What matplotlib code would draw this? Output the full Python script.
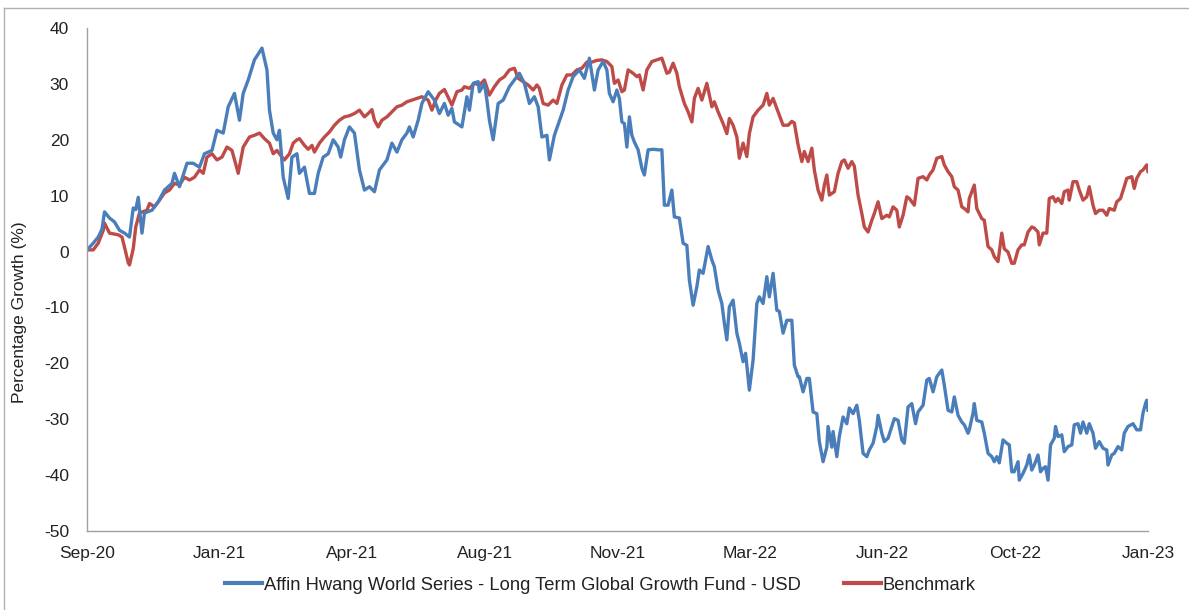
import numpy as np
import pandas as pd
import matplotlib
matplotlib.use("Agg")
import matplotlib.pyplot as plt
from matplotlib.lines import Line2D

# Data: days since 2020-09-25 and percentage growth
start = pd.Timestamp("2020-09-25")
span_days = 849

fund_days = [0, 5, 9, 12, 14, 18, 22, 26, 30, 34, 37, 39, 41, 44, 46, 52, 57, 62, 68, 70,
             74, 80, 85, 90, 94, 100, 104, 109, 113, 118, 122, 125, 129, 134, 140, 144, 146, 149, 152, 154,
             157, 161, 164, 168, 170, 174, 178, 182, 185, 189, 193, 197, 201, 203, 206, 210, 214, 218, 222, 226,
             230, 234, 240, 244, 248, 252, 256, 258, 261, 265, 268, 273, 278, 282, 286, 289, 292, 294, 300, 304,
             306, 309, 313, 314, 318, 320, 322, 325, 329, 333, 338, 344, 346, 350, 354, 358, 361, 364, 368, 370,
             374, 381, 385, 389, 394, 398, 402, 406, 409, 413, 416, 418, 421, 424, 426, 428, 430, 432, 434, 436,
             438, 441, 444, 446, 449, 453, 457, 460, 462, 465, 468, 470, 474, 477, 480, 482, 485, 488, 490, 493,
             497, 500, 502, 505, 508, 510, 512, 514, 517, 520, 522, 525, 527, 530, 533, 536, 538, 541, 544, 546,
             549, 552, 554, 557, 560, 564, 566, 569, 570, 573, 576, 578, 581, 584, 586, 589, 592, 593, 596, 597,
             600, 602, 605, 608, 610, 613, 616, 618, 621, 624, 626, 629, 632, 633, 636, 638, 641, 644, 646, 649,
             652, 654, 657, 660, 663, 665, 669, 672, 674, 677, 680, 684, 686, 689, 692, 694, 697, 700, 702, 705,
             706, 709, 710, 712, 716, 718, 721, 724, 726, 728, 730, 733, 736, 738, 740, 742, 745, 746, 749, 752,
             754, 756, 758, 761, 763, 765, 767, 769, 771, 774, 775, 777, 780, 782, 785, 788, 790, 793, 795, 797,
             800, 802, 805, 807, 810, 813, 816, 817, 820, 822, 825, 828, 830, 833, 837, 840, 843, 845, 847, 848,
             849]
fund_vals = [0.3, 1.5, 2.6, 4.0, 7.1, 6.0, 5.3, 3.8, 3.3, 2.6, 7.8, 7.5, 9.7, 3.3, 6.9, 7.4, 8.9, 11.0, 12.2, 14.0,
             11.6, 15.8, 15.8, 15.1, 17.5, 18.1, 21.7, 21.2, 25.9, 28.3, 23.5, 28.3, 30.7, 34.3, 36.4, 32.5, 25.3, 21.2, 20.0, 21.7,
             13.3, 9.5, 16.9, 17.5, 14.0, 15.1, 10.4, 10.4, 14.0, 16.9, 17.5, 20.0, 18.7, 16.9, 20.0, 22.3, 21.2, 14.6, 11.0, 11.6,
             10.7, 14.6, 16.4, 19.4, 17.8, 20.0, 21.2, 22.3, 20.5, 23.5, 26.5, 28.6, 27.1, 24.7, 26.5, 24.4, 25.6, 23.2, 22.3, 27.7,
             25.3, 30.1, 30.4, 28.6, 30.1, 27.1, 23.5, 20.0, 26.5, 27.1, 29.5, 31.3, 31.9, 30.1, 26.5, 27.7, 25.9, 20.5, 20.8, 16.4,
             20.8, 25.3, 28.9, 31.3, 32.5, 31.0, 34.6, 28.9, 32.5, 34.0, 32.5, 28.3, 26.8, 28.9, 27.4, 23.2, 22.9, 18.7, 24.1, 20.8,
             19.6, 18.2, 14.9, 13.7, 18.2, 18.3, 18.2, 18.2, 8.3, 8.3, 11.0, 6.2, 6.0, 1.5, 1.1, -5.1, -9.6, -6.3, -3.3, -3.9,
             0.9, -1.5, -2.7, -6.9, -9.3, -12.8, -15.8, -9.9, -8.7, -14.6, -16.4, -19.7, -18.2, -24.8, -19.4, -9.3, -8.1, -9.3, -4.5, -8.1,
             -3.9, -10.5, -10.7, -14.6, -12.3, -12.3, -20.3, -22.4, -22.4, -25.1, -22.7, -22.7, -28.7, -29.0, -34.0, -37.6, -35.0, -31.3, -35.0, -32.2,
             -36.7, -33.1, -29.6, -30.8, -28.0, -29.0, -27.5, -30.2, -36.1, -36.7, -35.5, -34.3, -31.3, -29.3, -32.5, -34.0, -33.4, -31.3, -29.9, -30.2,
             -33.7, -34.3, -27.8, -27.2, -30.8, -28.7, -27.5, -23.0, -22.7, -25.1, -22.4, -21.2, -23.9, -28.4, -28.7, -26.0, -29.3, -30.5, -31.0, -32.5,
             -31.9, -28.9, -27.2, -30.2, -30.5, -32.5, -36.1, -36.7, -37.6, -36.7, -37.8, -33.7, -34.3, -34.6, -39.4, -39.4, -37.6, -40.9, -39.7, -38.2,
             -36.4, -39.1, -38.2, -36.4, -39.4, -38.8, -38.5, -40.9, -34.6, -33.4, -31.3, -33.1, -32.8, -35.8, -34.9, -34.6, -31.0, -30.8, -32.5, -30.5,
             -32.5, -30.8, -32.5, -35.2, -34.0, -35.2, -35.5, -38.2, -36.4, -36.1, -34.9, -35.5, -32.5, -31.3, -30.8, -31.9, -31.9, -28.9, -27.2, -26.6,
             -28.4]

bench_days = [0, 5, 9, 13, 14, 18, 25, 28, 30, 33, 34, 37, 39, 42, 48, 50, 54, 58, 62, 66,
              70, 74, 78, 82, 86, 90, 93, 96, 100, 104, 108, 112, 116, 121, 125, 130, 134, 138, 142, 146,
              149, 152, 156, 158, 162, 165, 168, 170, 174, 177, 180, 182, 186, 190, 194, 198, 202, 206, 210, 214,
              218, 222, 225, 228, 230, 233, 236, 240, 244, 248, 252, 256, 260, 264, 268, 273, 276, 279, 282, 286,
              292, 296, 300, 302, 306, 310, 314, 318, 322, 326, 330, 334, 338, 342, 345, 349, 353, 357, 360, 362,
              365, 369, 373, 376, 380, 384, 388, 392, 396, 400, 404, 408, 412, 416, 420, 422, 425, 428, 430, 433,
              437, 440, 442, 445, 448, 452, 456, 460, 464, 466, 469, 472, 474, 478, 481, 484, 486, 489, 492, 496,
              500, 502, 505, 509, 512, 514, 517, 520, 522, 525, 528, 530, 533, 537, 541, 544, 546, 549, 553, 557,
              561, 564, 566, 569, 572, 574, 577, 580, 582, 585, 588, 590, 592, 594, 598, 601, 604, 606, 609, 612,
              614, 617, 620, 622, 625, 628, 630, 633, 636, 640, 642, 645, 648, 650, 653, 656, 658, 662, 665, 669,
              672, 674, 677, 680, 684, 686, 689, 692, 694, 697, 700, 702, 705, 706, 710, 712, 716, 718, 721, 724,
              726, 729, 732, 734, 737, 740, 742, 745, 748, 750, 753, 756, 758, 761, 762, 765, 768, 770, 773, 775,
              777, 780, 782, 785, 786, 789, 792, 794, 797, 800, 802, 805, 807, 810, 813, 816, 818, 822, 824, 827,
              830, 832, 836, 838, 840, 843, 845, 848, 849]
bench_vals = [0.3, 0.3, 1.5, 3.8, 5.1, 3.3, 3.0, 2.6, 0.8, -2.0, -2.4, 0.5, 4.4, 6.9, 7.4, 8.6, 8.0, 9.2, 10.5, 11.0,
              12.2, 11.9, 13.3, 12.8, 13.3, 14.6, 14.0, 16.9, 17.5, 16.4, 16.9, 18.7, 18.1, 14.0, 18.7, 20.5, 20.8, 21.2, 20.2, 19.4,
              17.5, 18.1, 16.9, 16.4, 17.5, 19.4, 20.0, 20.2, 19.0, 18.3, 19.0, 17.8, 19.4, 20.5, 21.4, 22.6, 23.5, 24.1, 24.3, 24.7,
              25.3, 24.1, 24.7, 25.4, 23.5, 22.3, 23.5, 24.1, 25.0, 25.9, 26.2, 26.8, 27.1, 27.4, 27.7, 27.1, 25.3, 27.1, 28.3, 29.0,
              26.2, 28.6, 28.9, 29.5, 29.2, 30.1, 29.8, 30.7, 28.0, 29.5, 30.7, 31.3, 32.5, 32.8, 31.0, 30.4, 29.8, 28.9, 29.8, 29.2,
              26.5, 26.2, 27.1, 26.5, 29.8, 31.6, 31.6, 32.5, 32.8, 33.9, 33.9, 34.2, 34.3, 34.0, 33.1, 30.1, 30.7, 28.6, 28.9, 32.5,
              31.9, 31.3, 31.6, 28.9, 32.5, 34.0, 34.3, 34.6, 31.9, 32.1, 33.7, 31.9, 29.5, 26.5, 25.0, 23.2, 27.4, 29.2, 27.1, 30.1,
              25.9, 26.8, 25.0, 22.9, 21.1, 23.8, 22.6, 20.5, 16.7, 19.4, 17.0, 21.1, 24.1, 25.3, 26.2, 28.3, 26.2, 27.4, 25.0, 22.6,
              22.6, 23.3, 23.0, 19.1, 16.1, 17.9, 16.1, 18.5, 14.6, 11.0, 9.2, 11.9, 13.7, 10.1, 10.7, 14.0, 16.1, 16.4, 14.9, 16.1,
              15.3, 10.1, 6.8, 4.4, 3.5, 5.6, 6.8, 8.9, 5.9, 6.5, 6.2, 8.0, 7.4, 4.4, 6.5, 9.8, 9.5, 8.3, 13.1, 13.4,
              12.8, 13.7, 14.6, 16.7, 17.0, 15.5, 14.3, 13.4, 11.6, 11.0, 8.0, 7.7, 7.1, 9.5, 11.9, 7.7, 5.9, 5.6, 0.9, 0.3,
              -0.9, -1.8, 3.3, 0.5, -0.1, -2.1, -2.1, 0.3, 1.2, 1.2, 3.5, 4.4, 4.2, 3.5, 1.2, 3.3, 3.3, 9.5, 9.8, 8.9,
              9.5, 8.6, 10.7, 11.0, 9.2, 12.5, 12.5, 11.0, 9.2, 9.8, 11.6, 8.3, 6.8, 7.4, 7.4, 6.5, 7.7, 7.4, 8.9, 9.5,
              11.6, 13.1, 13.4, 11.3, 13.1, 14.3, 14.6, 15.5, 14.3]

fund_name = "Affin Hwang World Series - Long Term Global Growth Fund - USD"
bench_name = "Benchmark"
y_ticks = list(range(-50, 41, 10))

fund_color = "#4a7ebb"
bench_color = "#be4b48"

fund_dates = start + pd.to_timedelta(fund_days, unit="D")
bench_dates = start + pd.to_timedelta(bench_days, unit="D")
tick_dates = [start + pd.Timedelta(days=span_days * k / 8) for k in range(9)]

plt.rcParams['font.family'] = ['Liberation Sans', 'DejaVu Sans']
plt.rcParams['axes.unicode_minus'] = False

fig = plt.figure(figsize=(11.89, 6.10), dpi=100)
ax = fig.add_axes([87 / 1189, 1 - 531 / 610, (1148 - 87) / 1189, (531 - 28) / 610])

ax.plot(bench_dates, bench_vals, color=bench_color, lw=2.4, solid_joinstyle='round')
ax.plot(fund_dates, fund_vals, color=fund_color, lw=2.4, solid_joinstyle='round')

ax.set_xlim(start, start + pd.Timedelta(days=span_days))
ax.set_ylim(-50, 40)
ax.set_yticks(y_ticks)
ax.set_xticks(tick_dates)
ax.set_xticklabels([d.strftime("%b-%y") for d in tick_dates])
ax.tick_params(axis='both', length=0, labelsize=12.5, colors='#222222')
ax.tick_params(axis='x', pad=11)
ax.tick_params(axis='y', pad=13)

for side in ['top', 'right']:
    ax.spines[side].set_visible(False)
for side in ['left', 'bottom']:
    ax.spines[side].set_color('#a0a0a0')
    ax.spines[side].set_linewidth(1.0)

fig.text(20 / 1189, 1 - 312 / 610, "Percentage Growth (%)", rotation=90,
         ha='center', va='center', fontsize=12.5, color='#222222')

handles = [Line2D([], [], color=fund_color, lw=3), Line2D([], [], color=bench_color, lw=3)]
fig.legend(handles, [fund_name, bench_name], loc='center', bbox_to_anchor=(0.505, 1 - 585 / 610),
           ncol=2, frameon=False, fontsize=13.2, handlelength=2.0, handletextpad=0.1,
           columnspacing=2.4, labelcolor='#222222')

# thin frame around the chart
fig.add_artist(Line2D([4 / 1189, 4 / 1189], [0, 1 - 8 / 610], transform=fig.transFigure,
                      color='#b0b0b0', lw=1))
fig.add_artist(Line2D([4 / 1189, 1], [1 - 8 / 610, 1 - 8 / 610], transform=fig.transFigure,
                      color='#b0b0b0', lw=1))

plt.savefig("out.png", dpi=100)
plt.close('all')
